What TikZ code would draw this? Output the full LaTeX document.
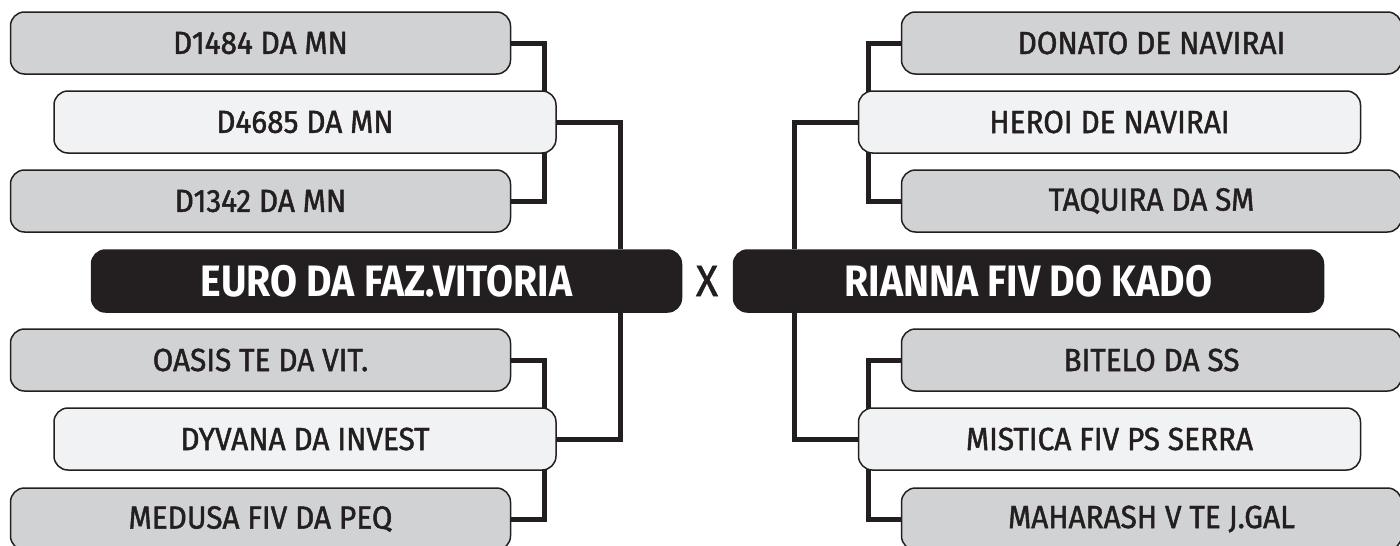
\documentclass[tikz,border=0pt]{standalone}
\usepackage{fontspec}
\setmainfont{Fira Sans}[FakeStretch=0.89]
\newfontfamily\entryfont{Fira Sans}[FakeStretch=0.93, FakeBold=1.4]
\usepackage{tikz}
\usetikzlibrary{positioning,backgrounds}

\definecolor{boxgrey}{HTML}{D1D2D4}
\definecolor{boxlight}{HTML}{F1F2F3}
\definecolor{boxdark}{HTML}{231F20}

\tikzset{
  entry/.style={draw=boxdark, line width=1.5pt, rounded corners=14pt, minimum height=62pt, inner sep=0pt, text=boxdark, font=\entryfont\fontsize{32}{32}\selectfont},
  greybox/.style={entry, fill=boxgrey, minimum width=500pt},
  lightbox/.style={entry, fill=boxlight, minimum width=502pt},
  finalist/.style={entry, fill=boxdark, text=white, minimum width=590pt, font=\rmfamily\fontsize{44}{44}\selectfont\bfseries},
  link/.style={line width=5pt, draw=boxdark},
}

\begin{document}
\begin{tikzpicture}[x=1pt, y=-1pt]
    \useasboundingbox (0,0) rectangle (1400,546);

    % Finalists
    \node[finalist] (euro) at (386.5,281) {EURO DA FAZ.VITORIA};
    \node[finalist] (rianna) at (1028.5,281) {RIANNA FIV DO KADO};
    \node[text=boxdark, font=\entryfont\fontsize{44}{44}\selectfont] (vs) at (707,281) {X};

    % Left side entries
    \foreach \n/\x/\y/\t in {d1484/260.5/43/D1484 DA MN, d1342/260.5/201/D1342 DA MN, oasis/260.5/360/OASIS TE DA VIT., medusa/260.5/519/MEDUSA FIV DA PEQ} {
      \node[greybox] (\n) at (\x,\y) {\t};
    }
    \node[lightbox] (d4685) at (305,122) {D4685 DA MN};
    \node[lightbox] (dyvana) at (305,439) {DYVANA DA INVEST};

    % Right side entries
    \foreach \n/\x/\y/\t in {donato/1151.5/43/DONATO DE NAVIRAI, taquira/1151.5/201/TAQUIRA DA SM, bitelo/1151.5/360/BITELO DA SS, maharash/1151.5/519/MAHARASH V TE J.GAL} {
      \node[greybox] (\n) at (\x,\y) {\t};
    }
    \node[lightbox] (heroi) at (1109.5,122) {HEROI DE NAVIRAI};
    \node[lightbox] (mistica) at (1109.5,439) {MISTICA FIV PS SERRA};

    % Draw brackets behind the boxes
    \coordinate (lj) at (620,0);
    \coordinate (rj) at (794,0);
    \begin{scope}[on background layer]
      \draw[link] (d1484.east) -- ++(33,0) |- (d1342.east);
      \draw[link] (oasis.east) -- ++(33,0) |- (medusa.east);
      \draw[link] (d4685.east) -| (lj |- euro.north);
      \draw[link] (dyvana.east) -| (lj |- euro.south);

      \draw[link] (donato.west) -- ++(-32,0) |- (taquira.west);
      \draw[link] (bitelo.west) -- ++(-32,0) |- (maharash.west);
      \draw[link] (heroi.west) -| (rj |- rianna.north);
      \draw[link] (mistica.west) -| (rj |- rianna.south);
    \end{scope}
  \end{tikzpicture}
\end{document}
